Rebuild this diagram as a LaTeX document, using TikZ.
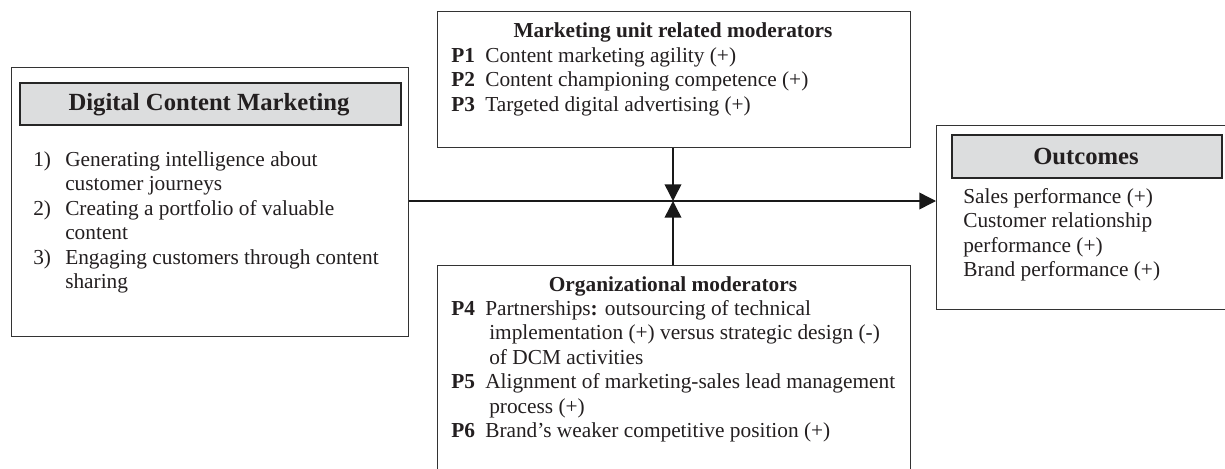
\documentclass[tikz,border=0pt]{standalone}
\usepackage{fontspec}
\setmainfont{Liberation Serif}
\usetikzlibrary{arrows.meta}
\definecolor{linec}{HTML}{333333}
\definecolor{hdrfill}{HTML}{DCDDDE}
\definecolor{txtc}{HTML}{231F20}
\tikzset{
  box/.style={draw=linec, line width=1.1pt, fill=white, anchor=north west, inner sep=0pt},
  hdr/.style={draw=black!85, line width=1.4pt, fill=hdrfill, anchor=north west, inner sep=0pt},
  txt/.style={anchor=base west, inner sep=0pt, text=txtc, font=\fontsize{16}{18.5}\selectfont},
  plab/.style={txt, font=\fontsize{16}{18.5}\selectfont\bfseries},
  ttl/.style={anchor=base, inner sep=0pt, text=txtc, font=\fontsize{16}{18.5}\selectfont\bfseries},
  bigttl/.style={anchor=base, inner sep=0pt, text=txtc, font=\fontsize{18.5}{22}\selectfont\bfseries},
  conn/.style={draw=black!90, line width=1.1pt, -{Triangle[length=12.5pt,width=12.5pt]}}
}
\begin{document}
\begin{tikzpicture}[x=0.75pt,y=-0.75pt]
\clip (0,0) rectangle (1225,468);
\fill[white] (0,0) rectangle (1225,468);

% Boxes
\node[box, minimum width=397*0.75pt, minimum height=269*0.75pt] (dcm) at (11,67) {};
\node[hdr, minimum width=381*0.75pt, minimum height=42*0.75pt] (dcmh) at (19,82) {};
\node[box, minimum width=473*0.75pt, minimum height=136*0.75pt] (mu) at (437,11) {};
\node[box, minimum width=473*0.75pt, minimum height=215*0.75pt] (org) at (437,265) {};
\node[box, minimum width=300*0.75pt, minimum height=184*0.75pt] (out) at (936,125) {};
\node[hdr, minimum width=270*0.75pt, minimum height=43*0.75pt] (outh) at (951,134) {};

% Connectors
\coordinate (j) at (673,201);
\draw[conn] (mu.south -| j) -- (j);
\draw[conn] (org.north -| j) -- (j);
\draw[conn] (dcm.east |- j) -- (out.west |- j);

% Digital Content Marketing
\node[bigttl] (t1) at (209,110) {Digital Content Marketing};
\node[txt] (n1) at (33,166) {1)};
\node[txt] (l1) at (65,166) {Generating intelligence about};
\node[txt] (l1b) at (65,190.5) {customer journeys};
\node[txt] (n2) at (33,215) {2)};
\node[txt] (l2) at (65,215) {Creating a portfolio of valuable};
\node[txt] (l2b) at (65,239.5) {content};
\node[txt] (n3) at (33,264) {3)};
\node[txt] (l3) at (65,264) {Engaging customers through content};
\node[txt] (l3b) at (65,288.5) {sharing};

% Marketing unit related moderators
\node[ttl] (t2) at (673,37) {Marketing unit related moderators};
\node[plab] (p1) at (451,62) {P1};
\node[txt] (p1t) at (485,62) {Content marketing agility (+)};
\node[plab] (p2) at (451,86.5) {P2};
\node[txt] (p2t) at (485,86.5) {Content championing competence (+)};
\node[plab] (p3) at (451,111) {P3};
\node[txt] (p3t) at (485,111) {Targeted digital advertising (+)};

% Organizational moderators
\node[ttl] (t3) at (673,291) {Organizational moderators};
\node[plab] (p4) at (451,315) {P4};
\node[txt] (p4t) at (485,315) {Partnerships\textbf{:} outsourcing of technical};
\node[txt] (p4b) at (489,339.5) {implementation (+) versus strategic design (-)};
\node[txt] (p4c) at (489,364) {of DCM activities};
\node[plab] (p5) at (451,388.5) {P5};
\node[txt] (p5t) at (485,388.5) {Alignment of marketing-sales lead management};
\node[txt] (p5b) at (489,413) {process (+)};
\node[plab] (p6) at (451,437.5) {P6};
\node[txt] (p6t) at (485,437.5) {Brand’s weaker competitive position (+)};

% Outcomes
\node[bigttl] (t4) at (1086,164) {Outcomes};
\node[txt] (o1) at (963,203) {Sales performance (+)};
\node[txt] (o2) at (963,227.5) {Customer relationship};
\node[txt] (o3) at (963,252) {performance (+)};
\node[txt] (o4) at (963,276.5) {Brand performance (+)};
\end{tikzpicture}
\end{document}
